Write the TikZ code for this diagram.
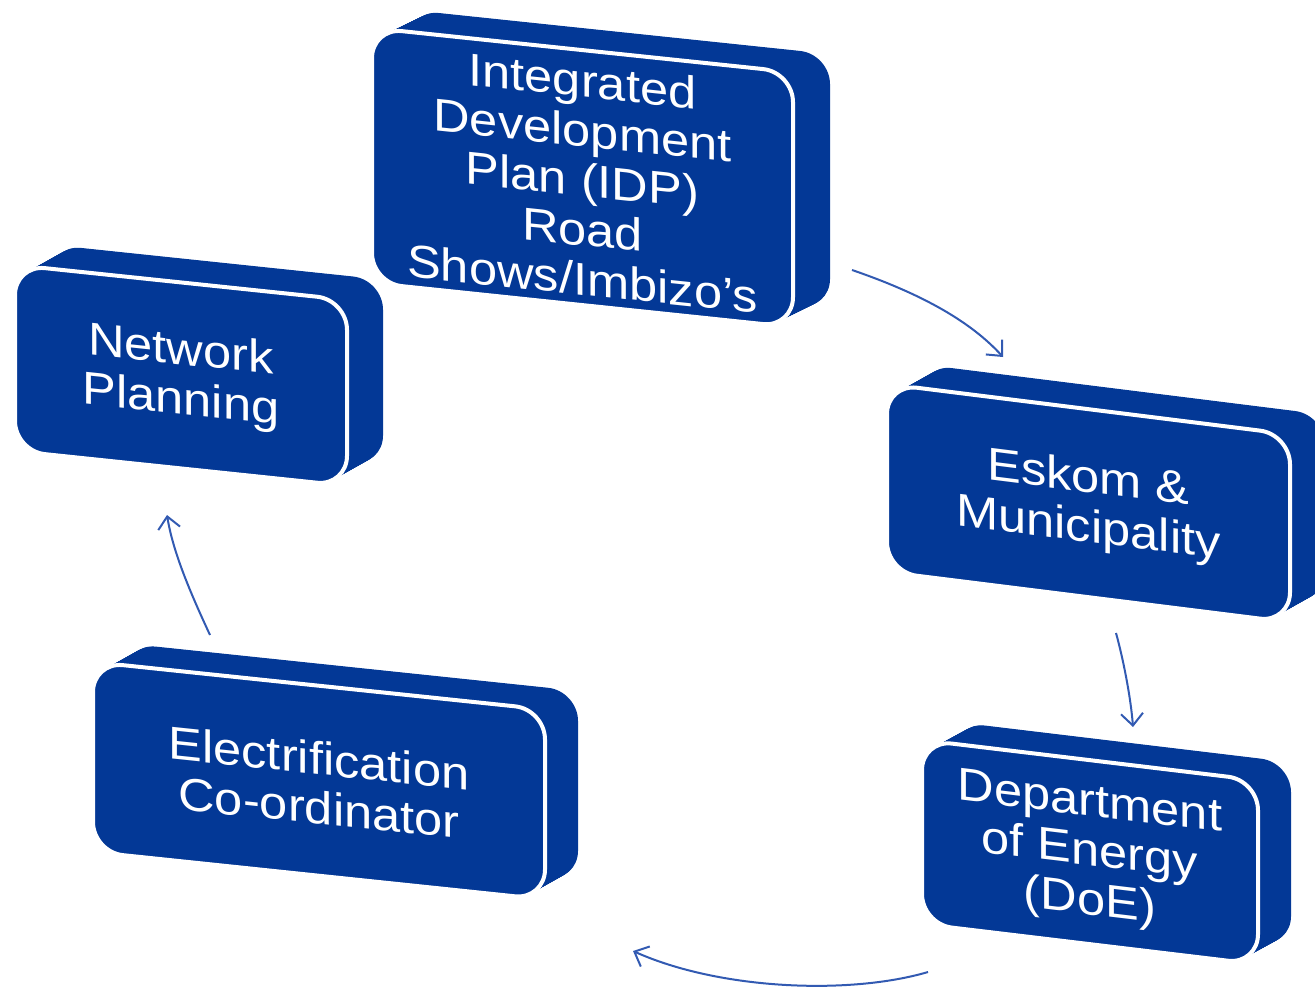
\documentclass[tikz,border=0pt]{standalone}
\usepackage{fontspec}
\setmainfont{Liberation Sans}
\usetikzlibrary{arrows.meta}
\definecolor{boxblue}{RGB}{3,56,150}
\definecolor{arrowblue}{RGB}{50,90,178}
\tikzset{
  boxtext/.style={text=white, align=center, font=\fontsize{46}{49.5}\selectfont, xscale=1.1, inner sep=0pt},
  flow/.style={draw=arrowblue, line width=2pt, -{Straight Barb[length=12pt,width=22pt,line width=2pt]}}
}
% #1 left, #2 top, #3 width, #4 height, #5 slope, #6 dx, #7 dy, #8 name, #9 text
\newcommand{\drawslab}[9]{%
  \begin{scope}[shift={(#1,#2)}, yslant=-#5]
    \foreach \i in {0,...,40} {
      \fill[boxblue, rounded corners=30pt] ({\i*#6/40},{\i*#7/40}) rectangle ++(#3,#4);
    }
    \filldraw[fill=boxblue, draw=white, line width=4pt, rounded corners=30pt] (0,0) rectangle (#3,#4);
    \node[boxtext, transform shape] (#8) at ({#3/2},{#4/2+2}) {#9};
  \end{scope}}
\begin{document}
\begin{tikzpicture}[x=1pt, y=-1pt]
  \useasboundingbox (0,0) rectangle (1315,988);
  \clip (0,0) rectangle (1315,988);
  \drawslab{15}{265}{332}{186}{0.105}{36}{-24}{np}{Network\\Planning}
  \drawslab{372}{28}{421}{255}{0.105}{37}{-22}{idp}{\fontsize{46}{46.5}\selectfont Integrated\\Development\\Plan (IDP)\\Road\\Shows/Imbizo’s}
  \drawslab{887}{384}{403}{188}{0.125}{35}{-24}{esk}{Eskom \&\\Municipality}
  \drawslab{93}{662}{452}{190}{0.105}{33}{-22}{elec}{Electrification\\Co-ordinator}
  \drawslab{922}{740}{336}{184}{0.12}{33}{-22}{doe}{\fontsize{46}{47.5}\selectfont Department\\of Energy\\(DoE)}

  \coordinate (a1s) at (852,270);
  \coordinate (a1e) at (1003,357);
  \coordinate (a2s) at (1116,633);
  \coordinate (a2e) at (1133,727);
  \coordinate (a3s) at (928,972);
  \coordinate (a3e) at (633,951);
  \coordinate (a4s) at (210,635);
  \coordinate (a4e) at (167,515);

  \draw[flow] (a1s) .. controls (925,295) and (972,323) .. (a1e);
  \draw[flow] (a2s) .. controls (1124,662) and (1131,700) .. (a2e);
  \draw[flow] (a3s) .. controls (850,995) and (720,990) .. (a3e);
  \draw[flow] (a4s) .. controls (190,592) and (173,552) .. (a4e);
\end{tikzpicture}
\end{document}
